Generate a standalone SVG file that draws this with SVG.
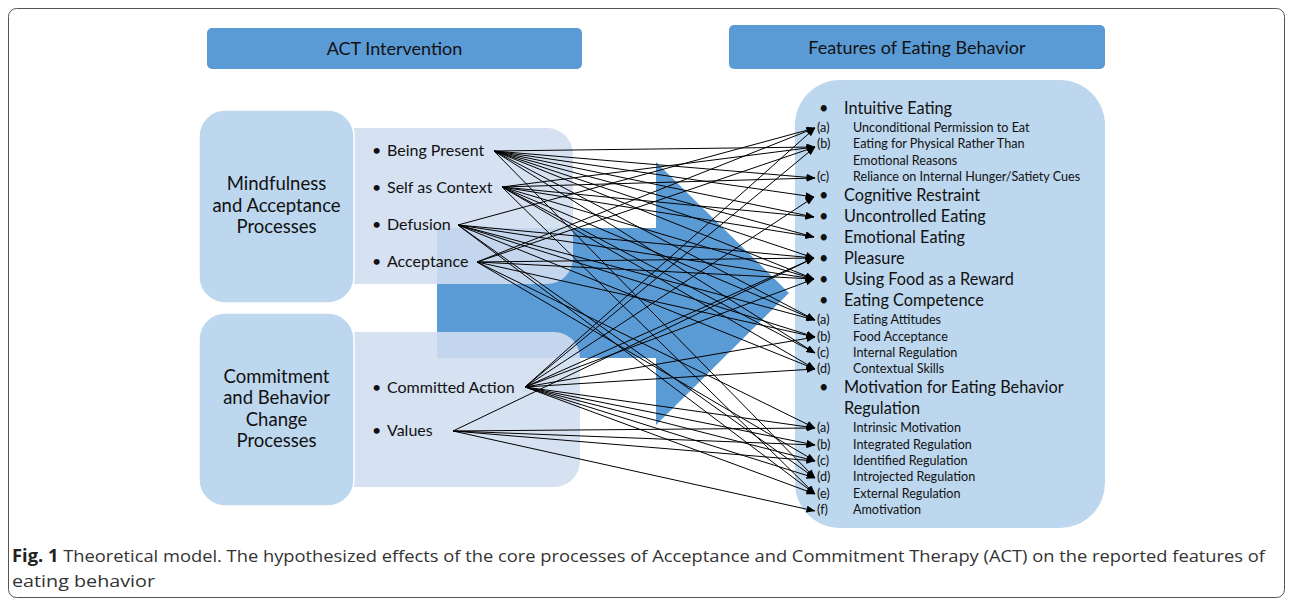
<svg xmlns="http://www.w3.org/2000/svg" width="1292" height="601" viewBox="0 0 1292 601">
<defs>
<marker id="ah" markerWidth="9" markerHeight="7" refX="8.5" refY="3.5" orient="auto" markerUnits="userSpaceOnUse">
<path d="M0,0 L9,3.5 L0,7 Z" fill="#000"/>
</marker>
<style>
.hdr{fill:#5b9bd5}
.big{fill:#bdd7ee;stroke:#fff;stroke-width:1.5}
.lite{fill:#d1ddef;fill-opacity:0.89}
.t{font-family:Lato,"Open Sans","Liberation Sans",sans-serif;fill:#111}
.h{font-size:18px}
.lab{font-size:18.5px}
.item{font-size:16px}
.main{font-size:16.3px}
.sub{font-size:12.6px}
.c{stroke:#000;stroke-width:1;fill:none;marker-end:url(#ah)}
.cap{font-family:"Open Sans","Liberation Sans",sans-serif;font-size:17px;fill:#333}
</style>
</defs>
<rect x="8.5" y="8.5" width="1276" height="589" rx="8" fill="#fff" stroke="#555" stroke-width="1"/>

<g id="arrow">
<polygon points="437,228 656,228 656,162 789,293 656,425 656,358 437,358" fill="#5b9bd5"/>
</g>

<g id="hdr-act">
<rect class="hdr" x="207" y="28" width="375" height="41" rx="5"/>
<text class="t h" x="394.5" y="54.5" text-anchor="middle">ACT Intervention</text>
</g>
<g id="hdr-features">
<rect class="hdr" x="729" y="25" width="376" height="44" rx="5"/>
<text class="t h" x="917" y="53.5" text-anchor="middle">Features of Eating Behavior</text>
</g>

<g id="mindfulness-items">
<rect class="lite" x="330" y="128" width="243" height="156" rx="26"/>
<text class="t item" x="372" y="156">•</text>
<text class="t item" x="387" y="156">Being Present</text>
<text class="t item" x="372" y="193">•</text>
<text class="t item" x="387" y="193">Self as Context</text>
<text class="t item" x="372" y="230">•</text>
<text class="t item" x="387" y="230">Defusion</text>
<text class="t item" x="372" y="267">•</text>
<text class="t item" x="387" y="267">Acceptance</text>
</g>
<g id="commitment-items">
<rect class="lite" x="330" y="332" width="250" height="155" rx="26"/>
<text class="t item" x="372" y="393">•</text>
<text class="t item" x="387" y="393">Committed Action</text>
<text class="t item" x="372" y="436">•</text>
<text class="t item" x="387" y="436">Values</text>
</g>

<g id="mindfulness">
<rect class="big" x="199" y="110" width="155" height="193" rx="26"/>
<text class="t lab" x="276.5" y="190" text-anchor="middle">Mindfulness</text>
<text class="t lab" x="276.5" y="212" text-anchor="middle">and Acceptance</text>
<text class="t lab" x="276.5" y="233" text-anchor="middle">Processes</text>
</g>
<g id="commitment">
<rect class="big" x="199" y="313" width="155" height="193" rx="26"/>
<text class="t lab" x="276.5" y="383" text-anchor="middle">Commitment</text>
<text class="t lab" x="276.5" y="404" text-anchor="middle">and Behavior</text>
<text class="t lab" x="276.5" y="426" text-anchor="middle">Change</text>
<text class="t lab" x="276.5" y="447" text-anchor="middle">Processes</text>
</g>

<g id="features">
<rect x="795" y="80" width="310" height="448" rx="45" fill="#bdd7ee"/>
<text class="t main" x="819" y="114">•</text><text class="t main" x="844" y="114">Intuitive Eating</text>
<text class="t sub" x="817" y="132">(a)</text><text class="t sub" x="853" y="132">Unconditional Permission to Eat</text>
<text class="t sub" x="817" y="148">(b)</text><text class="t sub" x="853" y="148">Eating for Physical Rather Than</text>
<text class="t sub" x="853" y="165">Emotional Reasons</text>
<text class="t sub" x="817" y="181">(c)</text><text class="t sub" x="853" y="181">Reliance on Internal Hunger/Satiety Cues</text>
<text class="t main" x="819" y="201">•</text><text class="t main" x="844" y="201">Cognitive Restraint</text>
<text class="t main" x="819" y="222">•</text><text class="t main" x="844" y="222">Uncontrolled Eating</text>
<text class="t main" x="819" y="243">•</text><text class="t main" x="844" y="243">Emotional Eating</text>
<text class="t main" x="819" y="264">•</text><text class="t main" x="844" y="264">Pleasure</text>
<text class="t main" x="819" y="285">•</text><text class="t main" x="844" y="285">Using Food as a Reward</text>
<text class="t main" x="819" y="306">•</text><text class="t main" x="844" y="306">Eating Competence</text>
<text class="t sub" x="817" y="324">(a)</text><text class="t sub" x="853" y="324">Eating Attitudes</text>
<text class="t sub" x="817" y="341">(b)</text><text class="t sub" x="853" y="341">Food Acceptance</text>
<text class="t sub" x="817" y="357">(c)</text><text class="t sub" x="853" y="357">Internal Regulation</text>
<text class="t sub" x="817" y="373">(d)</text><text class="t sub" x="853" y="373">Contextual Skills</text>
<text class="t main" x="819" y="393">•</text><text class="t main" x="844" y="393">Motivation for Eating Behavior</text>
<text class="t main" x="844" y="414">Regulation</text>
<text class="t sub" x="817" y="432">(a)</text><text class="t sub" x="853" y="432">Intrinsic Motivation</text>
<text class="t sub" x="817" y="449">(b)</text><text class="t sub" x="853" y="449">Integrated Regulation</text>
<text class="t sub" x="817" y="465">(c)</text><text class="t sub" x="853" y="465">Identified Regulation</text>
<text class="t sub" x="817" y="481">(d)</text><text class="t sub" x="853" y="481">Introjected Regulation</text>
<text class="t sub" x="817" y="498">(e)</text><text class="t sub" x="853" y="498">External Regulation</text>
<text class="t sub" x="817" y="514">(f)</text><text class="t sub" x="853" y="514">Amotivation</text>
</g>

<g id="connectors">
<!-- Being Present -->
<path class="c" d="M494 151 L815 147"/>
<path class="c" d="M494 151 L815 178"/>
<path class="c" d="M494 151 L814 197"/>
<path class="c" d="M494 151 L814 217"/>
<path class="c" d="M494 151 L814 237"/>
<path class="c" d="M494 151 L814 258"/>
<path class="c" d="M494 151 L814 279"/>
<path class="c" d="M494 151 L815 320"/>
<path class="c" d="M494 151 L815 353"/>
<path class="c" d="M494 151 L815 478"/>
<!-- Self as Context -->
<path class="c" d="M502 187 L815 147"/>
<path class="c" d="M502 187 L815 178"/>
<path class="c" d="M502 187 L814 217"/>
<path class="c" d="M502 187 L814 237"/>
<path class="c" d="M502 187 L814 279"/>
<path class="c" d="M502 187 L815 320"/>
<path class="c" d="M502 187 L815 353"/>
<path class="c" d="M502 187 L815 369"/>
<path class="c" d="M502 187 L815 494"/>
<!-- Defusion -->
<path class="c" d="M458 225 L815 128"/>
<path class="c" d="M458 225 L814 258"/>
<path class="c" d="M458 225 L814 279"/>
<path class="c" d="M458 225 L815 320"/>
<path class="c" d="M458 225 L815 337"/>
<path class="c" d="M458 225 L815 369"/>
<path class="c" d="M458 225 L815 478"/>
<path class="c" d="M458 225 L815 494"/>
<!-- Acceptance -->
<path class="c" d="M477 262 L815 128"/>
<path class="c" d="M477 262 L815 147"/>
<path class="c" d="M477 262 L814 258"/>
<path class="c" d="M477 262 L814 279"/>
<path class="c" d="M477 262 L815 337"/>
<path class="c" d="M477 262 L815 428"/>
<path class="c" d="M477 262 L815 461"/>
<!-- Committed Action -->
<path class="c" d="M525 387 L815 128"/>
<path class="c" d="M525 387 L815 147"/>
<path class="c" d="M525 387 L814 197"/>
<path class="c" d="M525 387 L814 258"/>
<path class="c" d="M525 387 L814 279"/>
<path class="c" d="M525 387 L815 337"/>
<path class="c" d="M525 387 L815 369"/>
<path class="c" d="M525 387 L815 428"/>
<path class="c" d="M525 387 L815 445"/>
<path class="c" d="M525 387 L815 461"/>
<path class="c" d="M525 387 L815 478"/>
<path class="c" d="M525 387 L815 494"/>
<!-- Values -->
<path class="c" d="M453 431 L814 258"/>
<path class="c" d="M453 431 L815 428"/>
<path class="c" d="M453 431 L815 445"/>
<path class="c" d="M453 431 L815 461"/>
<path class="c" d="M453 431 L815 511"/>
</g>

<g id="caption">
<text class="cap" x="12" y="562" textLength="1253" lengthAdjust="spacingAndGlyphs"><tspan font-weight="bold" fill="#222">Fig. 1</tspan> Theoretical model. The hypothesized effects of the core processes of Acceptance and Commitment Therapy (ACT) on the reported features of</text>
<text class="cap" x="12" y="587" textLength="143" lengthAdjust="spacingAndGlyphs">eating behavior</text>
</g>
</svg>
